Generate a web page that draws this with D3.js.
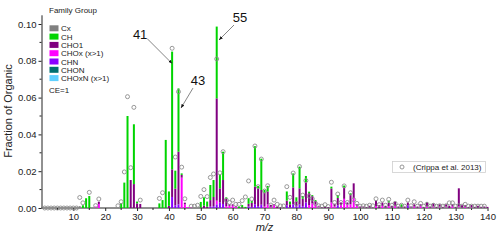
<!DOCTYPE html>
<html><head><meta charset="utf-8">
<script src="https://cdn.jsdelivr.net/npm/d3@7"></script>
<style>body{margin:0;background:#fff}svg text{font-family:"Liberation Sans",Arial,sans-serif}</style>
</head><body><svg id="c" width="500" height="241"></svg>
<script>
const families = ["Cx","CH","CHO1","CHOx (x>1)","CHN","CHON","CHOxN (x>1)"];
const familyColors = ["#808080","#00d400","#800080","#ff00ff","#8a00ff","#007070","#5fd0ff"];
const stackOrder = ["CHOxN (x>1)","CHON","CHN","CHOx (x>1)","CHO1","CH","Cx"];

const CxData = [[12,0.001]];
const CHData = [[13,0.0015],[14,0.0053],[15,0.0065],[25,0.0025],[26,0.0138],[27,0.05],[29,0.0325],[30,0.001],[37,0.0025],[38,0.0043],[39,0.037],[40,0.0078],[41,0.064],[42,0.0098],[43,0.0344],[44,0.0008],[50,0.003],[51,0.0045],[52,0.0028],[53,0.0082],[54,0.0092],[55,0.039],[56,0.0075],[57,0.0154],[58,0.0008],[62,0.0008],[63,0.0012],[64,0.0006],[65,0.003],[66,0.001],[67,0.022],[68,0.0015],[69,0.017],[70,0.0015],[71,0.003],[77,0.005],[78,0.0015],[79,0.0076],[80,0.0025],[81,0.0118],[82,0.0015],[83,0.0034],[84,0.0008],[85,0.0005],[86,0.0005],[89,0.0003],[91,0.001],[93,0.0015],[95,0.0012],[97,0.001],[109,0.001],[113,0.0015]];
const CHO1Data = [[18,0.0012],[28,0.0152],[29,0.013],[30,0.0025],[31,0.0022],[40,0.0012],[41,0.015],[42,0.009],[43,0.0286],[44,0.0015],[45,0.0009],[50,0.0003],[51,0.0013],[52,0.0007],[53,0.0035],[54,0.005],[55,0.0556],[56,0.0077],[57,0.013],[58,0.004],[59,0.0008],[60,0.0008],[61,0.0004],[63,0.0004],[65,0.0015],[66,0.0022],[67,0.0096],[68,0.0095],[69,0.008],[70,0.0075],[71,0.007],[72,0.0012],[73,0.0005],[74,0.0008],[75,0.0005],[76,0.0003],[77,0.0025],[78,0.0015],[79,0.0092],[80,0.0025],[81,0.0087],[82,0.004],[83,0.011],[84,0.0065],[85,0.004],[86,0.0018],[87,0.0004],[88,0.0004],[89,0.0005],[90,0.0004],[91,0.0076],[92,0.0015],[93,0.004],[94,0.0015],[95,0.006],[96,0.001],[97,0.005],[98,0.008],[99,0.0008],[100,0.0008],[101,0.0008],[102,0.0005],[103,0.0012],[104,0.0005],[105,0.003],[106,0.0015],[107,0.0018],[108,0.0012],[109,0.002],[110,0.0012],[111,0.0024],[112,0.0008],[113,0.0005],[114,0.0008],[115,0.0015],[116,0.0008],[117,0.0012],[118,0.0008],[119,0.001],[120,0.0006],[121,0.0025],[122,0.0008],[123,0.0015],[124,0.0006],[125,0.0012],[126,0.0006],[127,0.0012],[128,0.0012],[129,0.0012],[130,0.0006],[131,0.0097],[132,0.0015],[133,0.001],[134,0.0006],[135,0.0012],[136,0.0006],[137,0.0012],[138,0.0006],[139,0.0008],[140,0.0006]];
const CHOxData = [[17,0.0008],[18,0.0022],[44,0.0165],[45,0.002],[46,0.0005],[47,0.0003],[55,0.002],[58,0.001],[59,0.0012],[60,0.0012],[61,0.0006],[70,0.0008],[71,0.002],[72,0.0005],[73,0.0015],[84,0.0016],[85,0.0025],[86,0.002],[87,0.0008],[91,0.003],[92,0.0008],[94,0.0015],[95,0.005],[96,0.002],[97,0.002],[98,0.0054],[99,0.0012],[105,0.001],[107,0.0012],[109,0.001],[111,0.001],[117,0.0008],[119,0.001],[121,0.0008],[123,0.001],[125,0.0008],[127,0.0008],[129,0.0008],[131,0.001],[133,0.0005],[135,0.0004]];
const CHNData = [[41,0.006],[42,0.0015],[43,0.002],[53,0.0008],[54,0.001],[55,0.002],[56,0.003],[57,0.0022],[65,0.0008],[66,0.0006],[67,0.002],[68,0.001],[69,0.0018],[77,0.0015],[78,0.0005],[79,0.002],[80,0.0008],[81,0.002],[82,0.001],[83,0.003],[93,0.0015],[115,0.0015]];
const CHONData = [];
const CHOxNData = [];

const crippaMz  = [1,2,3,4,5,6,7,8,9,10,11,12,13,15,17,18,24,25,26,27,28,29,31,37,38,41,42,43,44,45,47,48,49,50,51,52,53,54,55,56,57,58,59,60,61,62,63,64,65,66,67,68,69,70,71,72,73,74,75,76,77,78,79,80,81,82,83,84,85,86,87,88,89,90,91,92,93,94,95,96,97,98,99,100,101,102,103,104,105,106,107,108,109,110,111,112,113,114,115,116,117,118,119,120,121,122,123,124,125,126,127,128,129,130,131,132,133,134,135,136,137,138,139];
const crippaVal = [0,0,0,0,0,0,0,0,0,0,0,0.0057,0.0028,0.0085,0.0013,0.0049,0.0012,0.0034,0.0196,0.0605,0.0219,0.0547,0.0043,0.0052,0.0083,0.0868,0.0277,0.0632,0.0222,0.005,0.001,0.001,0.0015,0.0063,0.01,0.0062,0.0166,0.0185,0.081,0.0191,0.0306,0.0043,0.003,0.0043,0.002,0.002,0.004,0.006,0.0147,0.0049,0.0337,0.0116,0.0266,0.0092,0.0121,0.0016,0.0043,0.002,0.0011,0.0011,0.0116,0.0058,0.019,0.0025,0.0225,0.007,0.0149,0.0065,0.005,0.0025,0.0012,0.001,0.0018,0.0008,0.014,0.003,0.0076,0.003,0.012,0.003,0.0083,0.0045,0.0025,0.001,0.0012,0.001,0.0015,0.0012,0.005,0.0018,0.0043,0.0015,0.0047,0.0015,0.0025,0.001,0.0015,0.001,0.0043,0.0012,0.0034,0.001,0.0025,0.001,0.002,0.001,0.0015,0.001,0.0012,0.001,0.0012,0.0028,0.0028,0.001,0.0012,0.001,0.002,0.001,0.001,0.001,0.001,0.001,0.001];

const xTickVals = [10,20,30,40,50,60,70,80,90,100,110,120,130,140];
const xMinorVals = [5,15,25,35,45,55,65,75,85,95,105,115,125,135];
const yTickVals = [0,0.02,0.04,0.06,0.08,0.10];
const yMinorVals = [0.01,0.03,0.05,0.07,0.09];
const annotations = [
  {label:"41", mz:41, v:0.0785, tipDx:0, lx:-25, ly:-25, tx:-32, ty:-25},
  {label:"43", mz:43, v:0.0543, tipDx:2.5, lx:12, ly:-20, tx:17, ty:-23},
  {label:"55", mz:55, v:0.0913, tipDx:2.3, lx:15, ly:-15, tx:21, ty:-18}
];

const seriesMap = {"Cx":CxData,"CH":CHData,"CHO1":CHO1Data,"CHOx (x>1)":CHOxData,"CHN":CHNData,"CHON":CHONData,"CHOxN (x>1)":CHOxNData};
const colorOf = d3.scaleOrdinal().domain(families).range(familyColors);

const svg = d3.select("#c");
const x = d3.scaleLinear().domain([0,140]).range([41.5,487.5]);
const y = d3.scaleLinear().domain([0,0.105]).range([208,14.8]);

const mzSet = new Set();
families.forEach(f => seriesMap[f].forEach(p => mzSet.add(p[0])));
const rows = Array.from(mzSet).sort((a,b)=>a-b).map(m => {
  const r = {mz:m};
  families.forEach(f => { const p = seriesMap[f].find(q => q[0]===m); r[f] = p ? p[1] : 0; });
  return r;
});
const stacked = d3.stack().keys(stackOrder)(rows);

// axes
const gx = svg.append("g").attr("transform","translate(0,208)")
  .call(d3.axisBottom(x).tickValues(xTickVals).tickSize(3).tickSizeOuter(0).tickPadding(2));
gx.append("g").selectAll("line").data(xMinorVals).join("line")
  .attr("x1",d=>x(d)).attr("x2",d=>x(d)).attr("y1",0).attr("y2",2).attr("stroke","#222");
const gy = svg.append("g").attr("transform","translate(41.5,0)")
  .call(d3.axisLeft(y).tickValues(yTickVals).tickFormat(d3.format(".2f")).tickSize(3).tickSizeOuter(0).tickPadding(2));
gy.append("g").selectAll("line").data(yMinorVals).join("line")
  .attr("y1",d=>y(d)).attr("y2",d=>y(d)).attr("x1",0).attr("x2",-2).attr("stroke","#222");
[gx,gy].forEach(g => {
  g.selectAll("path,line").attr("stroke","#222");
  g.selectAll("text").attr("font-size","9.5px").attr("fill","#222").style("font-family","Liberation Sans, Arial, sans-serif");
});
gx.select(".domain").attr("d", `M${x(0)},0H${x(140)}`);

// bars
const bw = 2;
svg.append("g").selectAll("g").data(stacked).join("g")
  .attr("fill", d => colorOf(d.key))
  .selectAll("rect").data(d => d.filter(s => s[1] - s[0] > 0)).join("rect")
  .attr("x", s => x(s.data.mz) - bw/2).attr("width", bw)
  .attr("y", s => y(s[1])).attr("height", s => y(s[0]) - y(s[1]));

// crippa circles
svg.append("g").selectAll("circle").data(crippaMz.map((m,i)=>[m,crippaVal[i]])).join("circle")
  .attr("cx", d => x(d[0])).attr("cy", d => y(d[1])).attr("r", 2)
  .attr("fill","none").attr("stroke","#8c8c8c").attr("stroke-width",0.9);

// axis titles
svg.append("text").attr("transform","translate(12,111) rotate(-90)").attr("text-anchor","middle")
  .attr("font-size","11px").attr("fill","#222").text("Fraction of Organic");
svg.append("text").attr("x",(x(0)+x(140))/2).attr("y",231).attr("text-anchor","middle")
  .attr("font-size","11px").attr("font-style","italic").attr("fill","#222").text("m/z");

// family legend
const lg = svg.append("g");
lg.append("text").attr("x",49).attr("y",13).attr("font-size","8px").attr("fill","#222").text("Family Group");
families.forEach((f,i) => {
  const cy = 28.3 + i*8.3;
  lg.append("rect").attr("x",49.5).attr("y",cy-3).attr("width",9).attr("height",6).attr("fill",colorOf(f));
  lg.append("text").attr("x",61).attr("y",cy+3).attr("font-size","8px").attr("fill","#222").text(f);
});
lg.append("text").attr("x",49).attr("y",93).attr("font-size","8px").attr("fill","#222").text("CE=1");

// crippa legend
const cl = svg.append("g");
cl.append("rect").attr("x",392.5).attr("y",161.5).attr("width",93).attr("height",11)
  .attr("fill","#fff").attr("stroke","#cfcfcf").attr("stroke-width",0.8);
cl.append("circle").attr("cx",402).attr("cy",167).attr("r",2).attr("fill","none").attr("stroke","#8c8c8c").attr("stroke-width",0.9);
cl.append("text").attr("x",413).attr("y",170).attr("font-size","8px").attr("fill","#222").text("(Crippa et al. 2013)");

// annotations
const defs = svg.append("defs");
defs.append("marker").attr("id","ah").attr("viewBox","0 0 10 10").attr("refX",10).attr("refY",5)
  .attr("markerWidth",5).attr("markerHeight",5).attr("orient","auto")
  .append("path").attr("d","M0,1L10,5L0,9Z").attr("fill","#111");
annotations.forEach(a => {
  const px = x(a.mz) + a.tipDx, py = y(a.v);
  svg.append("line").attr("x1",px+a.lx).attr("y1",py+a.ly).attr("x2",px).attr("y2",py)
    .attr("stroke","#666").attr("stroke-width",0.8).attr("marker-end","url(#ah)");
  svg.append("text").attr("x",px+a.tx).attr("y",py+a.ty)
    .attr("text-anchor","middle").attr("font-size","13px").attr("fill","#111").text(a.label);
});
</script></body></html>
